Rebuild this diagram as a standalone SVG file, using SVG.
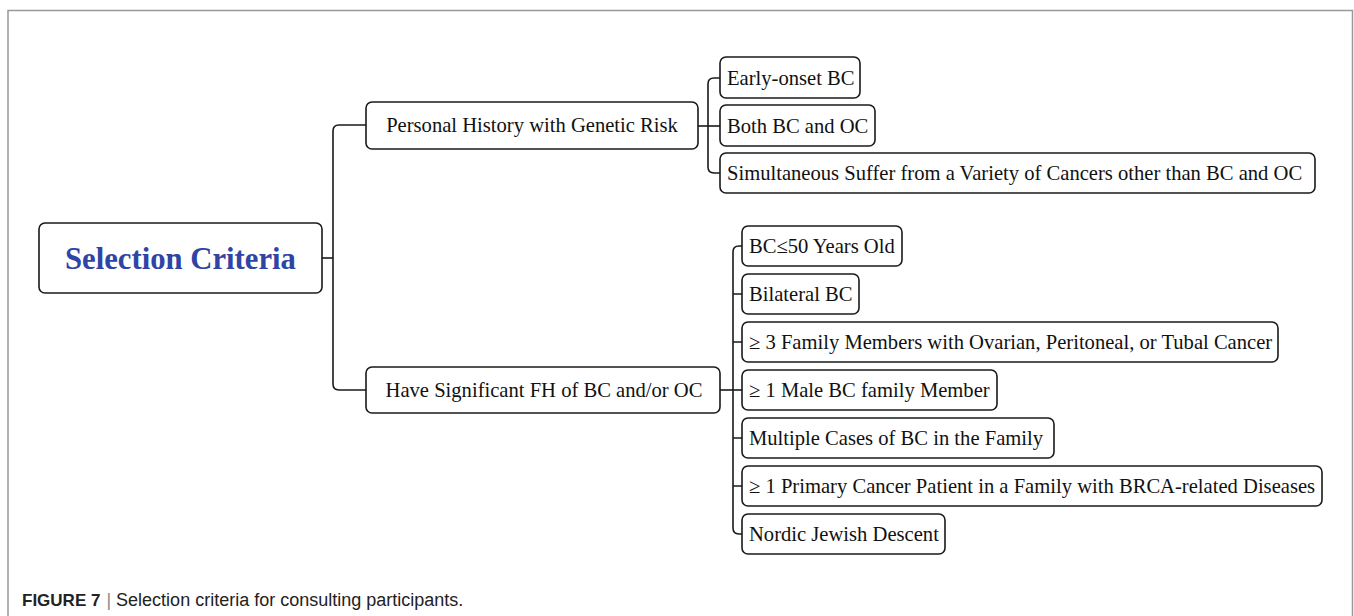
<svg xmlns="http://www.w3.org/2000/svg" width="1354" height="616" viewBox="0 0 1354 616">
<style>
.frame{fill:none;stroke:#999;stroke-width:1.5}
.box{fill:#fff;stroke:#1a1a1a;stroke-width:1.6}
.conn{fill:none;stroke:#1a1a1a;stroke-width:1.6}
.t{font-family:"Liberation Serif","Times New Roman",serif;font-size:20.6px;fill:#111}
.tm{text-anchor:middle}
.root{font-family:"Liberation Serif","Times New Roman",serif;font-size:30.7px;font-weight:bold;fill:#2e45a5;text-anchor:middle}
.cap{font-family:"Liberation Sans",Arial,sans-serif;font-size:18px;fill:#222}
</style>
<rect width="1354" height="616" fill="#fff"/>
<path class="frame" d="M8,617 V10.5 H1352.5 V617"/>
<g id="connectors">
<path class="conn" d="M322,258 H333"/>
<path class="conn" d="M366,125 H339 Q333,125 333,131 V384 Q333,390 339,390 H366"/>
<path class="conn" d="M698,126 H720"/>
<path class="conn" d="M720,78 H714 Q708,78 708,84 V167 Q708,173 714,173 H720"/>
<path class="conn" d="M720,390 H742"/>
<path class="conn" d="M742,246 H739 Q733,246 733,252 V528 Q733,534 739,534 H742"/>
<path class="conn" d="M733,294 H742 M733,342 H742 M733,438 H742 M733,486 H742"/>
</g>
<g id="root"><rect class="box" x="39" y="223" width="283" height="70" rx="6"/><text class="root" x="180.5" y="268.5">Selection Criteria</text></g>
<g id="personal"><rect class="box" x="366" y="102" width="332" height="47" rx="6"/><text class="t tm" x="532" y="132">Personal History with Genetic Risk</text></g>
<g id="family"><rect class="box" x="366" y="367" width="354" height="46" rx="6"/><text class="t tm" x="544" y="397">Have Significant FH of BC and/or OC</text></g>
<g id="early"><rect class="box" x="720" y="57" width="140" height="41" rx="6"/><text class="t" x="727" y="85">Early-onset BC</text></g>
<g id="both"><rect class="box" x="720" y="105" width="155" height="41" rx="6"/><text class="t" x="727" y="133">Both BC and OC</text></g>
<g id="simul"><rect class="box" x="720" y="153" width="595" height="40" rx="6"/><text class="t" x="727" y="180">Simultaneous Suffer from a Variety of Cancers other than BC and OC</text></g>
<g id="bc50"><rect class="box" x="742" y="226" width="160" height="40" rx="6"/><text class="t" x="749" y="253">BC≤50 Years Old</text></g>
<g id="bilateral"><rect class="box" x="742" y="274" width="117" height="40" rx="6"/><text class="t" x="749" y="301">Bilateral BC</text></g>
<g id="three"><rect class="box" x="742" y="322" width="536" height="40" rx="6"/><text class="t" x="749" y="349">≥ 3 Family Members with Ovarian, Peritoneal, or Tubal Cancer</text></g>
<g id="male"><rect class="box" x="742" y="370" width="255" height="40" rx="6"/><text class="t" x="749" y="397">≥ 1 Male BC family Member</text></g>
<g id="multiple"><rect class="box" x="742" y="418" width="312" height="40" rx="6"/><text class="t" x="749" y="445">Multiple Cases of BC in the Family</text></g>
<g id="primary"><rect class="box" x="742" y="466" width="580" height="40" rx="6"/><text class="t" x="749" y="493">≥ 1 Primary Cancer Patient in a Family with BRCA-related Diseases</text></g>
<g id="nordic"><rect class="box" x="742" y="514" width="203" height="40" rx="6"/><text class="t" x="749" y="541">Nordic Jewish Descent</text></g>
<g id="caption"><text class="cap" x="22" y="606"><tspan font-weight="bold" font-size="17px">FIGURE 7</tspan><tspan fill="#888" dx="6">|</tspan><tspan dx="5">Selection criteria for consulting participants.</tspan></text></g>
</svg>
